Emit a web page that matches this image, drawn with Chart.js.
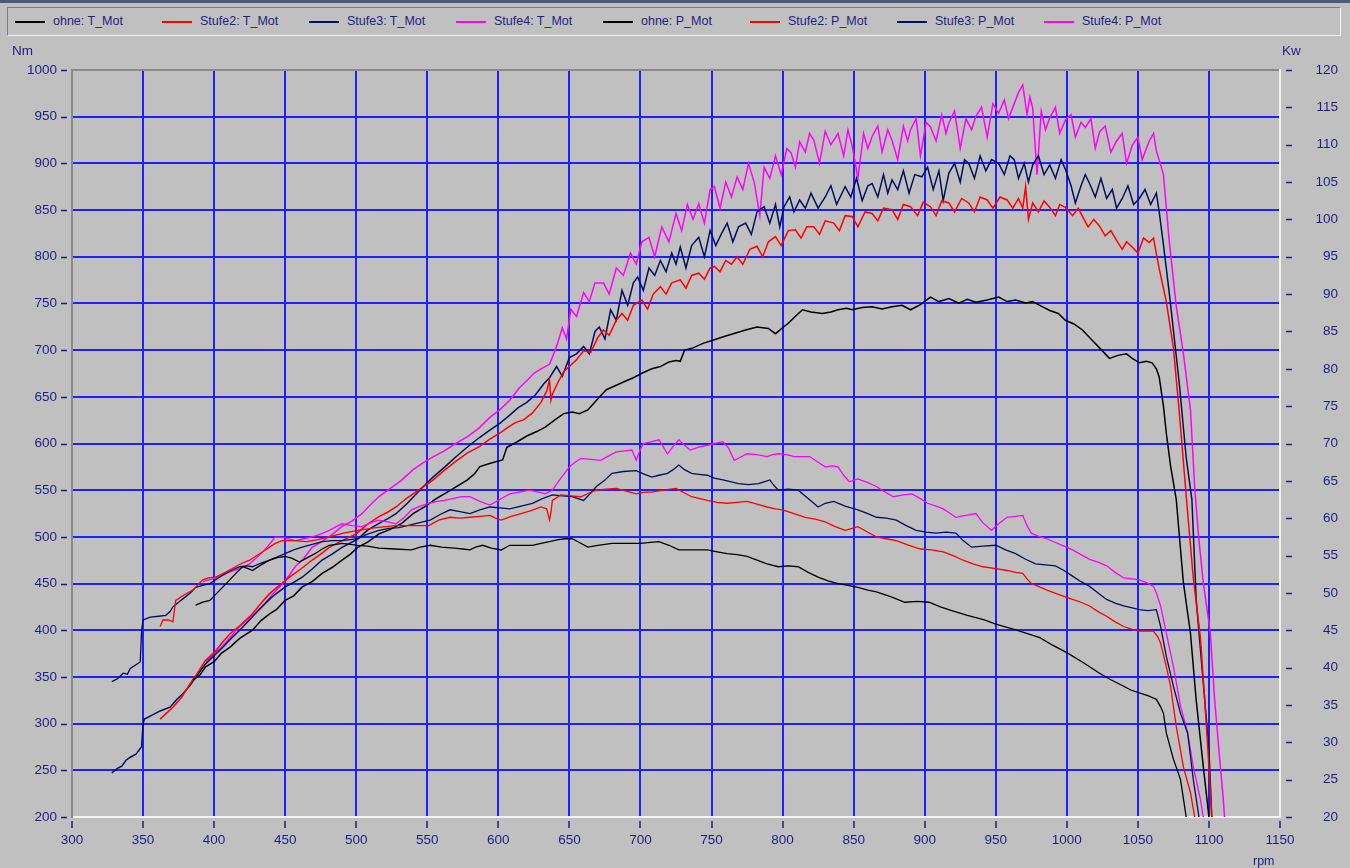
<!DOCTYPE html>
<html>
<head>
<meta charset="utf-8">
<script src="https://cdn.jsdelivr.net/npm/chart.js@4.4.1/dist/chart.umd.min.js"></script>
<style>
html,body{margin:0;padding:0;background:#c0c0c0;}
#wrap{position:relative;width:1350px;height:868px;overflow:hidden;background:#c0c0c0;font-family:"Liberation Sans",Arial,sans-serif;}
#topline{position:absolute;left:0;top:0;width:1350px;height:3px;background:#4a5a7c;}
#legend{position:absolute;left:7px;top:7px;width:1332px;height:27px;border-top:1px solid #7c7c7c;border-left:1px solid #7c7c7c;border-bottom:1px solid #f2f2f2;border-right:1px solid #f2f2f2;}
.li{position:absolute;top:0;height:27px;font-size:12.5px;color:#1e1e82;white-space:nowrap;}
.li i{position:absolute;left:0;top:13px;width:30px;height:2px;}
.li span{position:absolute;left:38px;top:6px;}
canvas{position:absolute;left:0;top:0;}
</style>
</head>
<body>
<div id="wrap">
  <div id="topline"></div>
  <div id="legend"></div>
  <canvas id="c" width="1350" height="868"></canvas>
</div>
<script>
// ---------- axis definitions ----------
const rpmMin = 300, rpmMax = 1150, rpmStep = 50;
const nmMin = 200, nmMax = 1000, nmStep = 50;
const kwMin = 20, kwMax = 120, kwStep = 5;
const unitLeft = "Nm", unitRight = "Kw", unitX = "rpm";

// ---------- series labels ----------
const seriesLabels = ["ohne: T_Mot","Stufe2: T_Mot","Stufe3: T_Mot","Stufe4: T_Mot",
                      "ohne: P_Mot","Stufe2: P_Mot","Stufe3: P_Mot","Stufe4: P_Mot"];
const seriesColors = ["#000000","#ff0000","#000f5e","#ff00ff","#000000","#ff0000","#000f5e","#ff00ff"];

// ---------- torque T_Mot [rpm, Nm] (left axis) ----------
const ohneT = [[387,427],[392,430],[397,432],[404,443],[411,454],[416,462],[420,468],[424,466],[427,464],[433,470],[439,475],[445,478],[450,479],[455,477],[460,473],[466,478],[471,482],[476,487],[481,491],[486,492],[490,493],[496,492],[501,491],[508,490],[516,488],[527,487],[539,486],[545,489],[552,491],[560,489],[569,488],[575,487],[580,486],[584,489],[589,491],[595,488],[602,486],[608,491],[616,491],[624,491],[630,493],[636,495],[642,497],[647,498],[652,498],[657,494],[663,489],[670,491],[680,493],[690,493],[700,493],[707,494],[713,495],[720,491],[727,486],[737,486],[747,486],[754,484],[761,482],[768,481],[775,479],[782,475],[789,471],[797,468],[804,469],[811,468],[818,462],[825,457],[832,453],[839,450],[846,448],[853,446],[860,443],[866,441],[876,436],[886,430],[895,431],[903,430],[911,425],[919,421],[930,416],[942,411],[949,407],[956,404],[963,401],[969,398],[975,395],[981,392],[990,384],[1000,376],[1012,365],[1023,354],[1031,347],[1040,340],[1045,336],[1051,333],[1057,330],[1063,326],[1066,318],[1068,311],[1070,290],[1075,262],[1080,240],[1084,200]];

const stufe2T = [[362,404],[364,411],[368,411],[371,409],[373,432],[379,438],[385,443],[392,454],[396,456],[401,457],[408,462],[415,468],[420,472],[425,475],[432,482],[439,489],[443,493],[448,496],[456,496],[465,495],[473,497],[481,500],[491,504],[501,507],[514,510],[528,512],[540,512],[551,512],[558,518],[566,521],[573,520],[580,521],[587,522],[594,523],[598,520],[602,518],[609,522],[616,525],[623,528],[630,532],[634,530],[636,518],[637,526],[638,539],[644,545],[651,544],[658,543],[664,547],[669,550],[676,551],[683,552],[690,549],[697,546],[703,548],[708,548],[716,550],[725,552],[731,547],[736,543],[742,541],[747,539],[754,537],[761,536],[768,537],[775,538],[782,535],[789,532],[795,530],[800,529],[808,525],[816,521],[823,519],[830,516],[837,511],[844,507],[849,509],[853,511],[860,505],[866,500],[873,498],[880,496],[889,491],[897,487],[905,486],[913,484],[920,480],[927,475],[934,471],[941,468],[950,466],[958,464],[964,462],[969,461],[972,455],[975,450],[980,447],[986,443],[995,438],[1004,433],[1010,430],[1016,426],[1022,420],[1028,415],[1034,409],[1040,404],[1046,401],[1051,399],[1056,399],[1061,399],[1064,393],[1066,386],[1070,361],[1073,340],[1077,297],[1082,254],[1087,226],[1090,200]];

const stufe3T = [[328,345],[332,348],[336,354],[339,353],[341,359],[345,363],[348,366],[349,400],[350,411],[355,414],[361,415],[366,416],[369,420],[371,425],[375,430],[380,436],[384,441],[387,446],[392,448],[397,450],[402,455],[406,459],[412,464],[418,468],[423,469],[427,468],[433,472],[439,475],[445,479],[450,482],[456,486],[462,489],[469,492],[476,495],[483,496],[490,496],[496,497],[501,498],[508,503],[516,507],[523,509],[530,510],[541,514],[552,518],[559,524],[566,529],[573,527],[580,525],[587,529],[594,532],[601,531],[608,530],[616,533],[624,536],[631,541],[638,545],[645,544],[652,543],[656,541],[660,539],[665,547],[669,554],[675,561],[680,568],[688,570],[697,571],[703,567],[708,564],[713,566],[719,568],[723,572],[727,577],[731,572],[736,568],[741,567],[747,566],[752,563],[758,561],[764,559],[769,557],[776,556],[783,557],[787,559],[791,561],[794,555],[797,550],[804,551],[811,550],[818,541],[825,532],[830,536],[836,538],[844,533],[853,529],[860,525],[866,521],[873,520],[880,518],[887,512],[894,507],[901,505],[908,504],[915,505],[922,504],[927,496],[933,489],[941,490],[950,491],[957,486],[964,482],[971,476],[978,471],[985,470],[992,469],[998,464],[1004,458],[1010,452],[1016,447],[1022,440],[1028,433],[1034,429],[1040,426],[1046,424],[1051,422],[1057,421],[1063,422],[1066,404],[1070,372],[1075,340],[1080,311],[1085,290],[1089,240],[1093,200]];

const stufe4T = [[392,452],[399,455],[405,458],[410,462],[418,466],[425,471],[430,478],[435,485],[440,494],[443,500],[450,499],[457,496],[463,498],[469,500],[475,503],[481,507],[486,511],[490,514],[497,512],[504,511],[510,515],[516,518],[522,516],[528,514],[534,521],[539,529],[545,533],[551,536],[557,538],[562,539],[568,541],[574,543],[580,543],[587,538],[594,534],[601,540],[608,546],[615,548],[622,550],[628,548],[633,546],[638,550],[644,563],[650,575],[654,580],[658,584],[665,583],[672,582],[678,587],[683,591],[689,592],[694,593],[697,582],[700,594],[702,600],[708,602],[713,604],[719,589],[723,597],[727,604],[731,598],[735,593],[741,596],[747,598],[752,600],[758,602],[762,595],[766,582],[770,585],[775,589],[782,588],[789,586],[793,588],[797,589],[803,588],[808,586],[814,586],[819,586],[825,580],[830,575],[835,576],[839,575],[843,566],[847,559],[853,562],[860,558],[866,554],[872,548],[878,543],[885,545],[891,546],[897,541],[902,536],[908,533],[913,530],[918,525],[922,521],[929,523],[936,525],[941,515],[947,507],[952,514],[958,521],[964,522],[969,523],[972,512],[975,504],[981,500],[986,498],[992,494],[998,490],[1004,486],[1010,481],[1016,476],[1022,473],[1028,469],[1034,462],[1040,456],[1046,455],[1051,454],[1056,451],[1061,447],[1063,440],[1066,426],[1070,397],[1075,361],[1080,319],[1085,290],[1089,254],[1094,219],[1096,200]];

// ---------- power P_Mot [rpm, kW] (right axis) ----------
const ohneP = [[385,38.3],[390,39.0],[394,40.1],[400,40.8],[405,41.9],[411,42.7],[418,43.9],[427,45.0],[433,46.3],[439,47.2],[444,47.8],[450,49.0],[456,49.6],[462,50.8],[469,51.5],[476,52.6],[483,53.4],[490,54.4],[496,55.2],[501,56.1],[508,56.8],[516,57.9],[524,58.5],[532,59.3],[540,60.6],[548,61.5],[556,62.6],[565,63.6],[578,65.1],[583,65.9],[587,66.9],[595,67.4],[603,67.8],[606,69.5],[613,70.2],[620,71.0],[627,71.6],[633,72.2],[640,73.2],[646,74.0],[652,74.2],[657,74.0],[663,74.5],[670,76.0],[676,77.2],[683,77.8],[690,78.4],[695,78.8],[701,79.4],[708,80.0],[714,80.3],[720,80.9],[725,81.1],[728,81.0],[731,82.5],[737,82.8],[744,83.4],[752,83.9],[760,84.4],[767,84.8],[774,85.2],[782,85.6],[790,85.4],[795,84.7],[800,85.5],[804,86.1],[810,87.2],[814,87.9],[820,87.6],[828,87.4],[834,87.6],[839,87.9],[845,88.1],[849,87.9],[856,88.2],[863,88.3],[870,88.0],[877,88.3],[884,88.5],[890,87.9],[897,88.6],[904,89.6],[910,89.0],[917,89.4],[924,88.8],[930,89.3],[936,88.9],[944,89.2],[952,89.6],[958,89.0],[964,89.2],[971,88.8],[976,89.0],[982,88.4],[988,87.8],[994,87.4],[999,86.5],[1005,86.0],[1011,85.2],[1017,84.0],[1023,82.8],[1027,82.0],[1030,81.4],[1036,81.8],[1042,82.0],[1046,81.4],[1051,80.8],[1056,81.0],[1060,80.8],[1063,80.0],[1065,78.9],[1068,75.0],[1070,71.4],[1073,67.0],[1077,62.5],[1082,51.4],[1087,44.6],[1091,35.7],[1096,26.8],[1100,20.0]];

const stufe2P = [[362,33.1],[366,33.8],[371,34.7],[377,36.0],[383,37.8],[388,39.2],[394,41.0],[400,42.0],[405,43.2],[411,44.5],[418,45.6],[427,47.2],[433,48.6],[439,49.9],[446,51.0],[453,52.1],[461,53.2],[469,54.4],[475,55.2],[481,56.1],[490,57.0],[500,57.9],[508,59.2],[516,60.2],[522,60.8],[528,61.5],[535,62.6],[544,63.8],[554,65.1],[562,66.4],[570,67.6],[578,68.7],[586,69.5],[594,70.6],[601,71.4],[607,72.2],[612,72.8],[618,73.2],[624,74.1],[630,75.5],[634,77.0],[636,78.5],[637,75.8],[638,76.6],[642,78.2],[646,79.6],[650,80.3],[655,81.2],[660,82.4],[665,82.2],[670,84.2],[674,85.2],[678,84.5],[683,86.5],[687,87.4],[691,86.5],[695,88.5],[701,89.2],[705,88.0],[709,90.0],[714,91.0],[718,90.0],[722,91.5],[728,91.9],[732,90.8],[736,92.5],[741,92.8],[745,92.0],[749,93.5],[752,93.7],[756,93.0],[760,94.5],[764,94.0],[768,95.0],[772,94.0],[777,96.0],[782,96.4],[786,95.0],[790,97.0],[795,97.7],[799,96.5],[804,98.5],[809,98.6],[813,97.5],[817,99.0],[822,99.0],[826,98.0],[830,99.8],[836,99.5],[840,98.5],[844,100.5],[849,100.4],[853,99.0],[858,101.0],[863,100.8],[867,99.8],[871,101.5],[877,101.3],[881,100.0],[885,102.0],[890,101.7],[895,100.5],[899,102.3],[904,101.7],[908,100.5],[912,102.5],[917,102.2],[921,101.0],[926,102.8],[931,102.2],[935,101.0],[939,103.0],[944,102.6],[948,101.5],[953,103.0],[958,102.6],[962,101.5],[966,102.8],[969,101.5],[971,104.4],[973,100.0],[976,102.2],[980,101.0],[984,102.5],[988,101.6],[992,100.5],[995,102.0],[999,101.6],[1004,100.5],[1008,101.5],[1011,100.4],[1015,99.0],[1019,100.0],[1023,99.1],[1027,97.8],[1031,98.5],[1035,97.2],[1039,96.0],[1042,97.0],[1046,96.3],[1050,95.5],[1054,97.5],[1058,96.9],[1061,97.5],[1063,95.4],[1065,93.4],[1070,89.0],[1075,82.8],[1079,74.5],[1084,63.0],[1089,52.0],[1094,44.0],[1097,35.7],[1100,26.8],[1102,20.0]];

const stufe3P = [[328,25.9],[332,26.5],[335,26.8],[338,27.6],[341,28.0],[345,28.4],[349,29.4],[350,32.5],[351,33.1],[356,33.6],[362,34.2],[369,34.7],[374,35.8],[378,36.5],[383,37.6],[387,38.7],[394,40.5],[400,41.6],[406,42.7],[412,43.9],[418,45.0],[424,46.2],[429,47.2],[435,48.4],[441,49.5],[450,50.8],[456,51.4],[462,52.1],[469,53.2],[476,54.4],[483,55.2],[490,56.1],[501,57.2],[508,58.4],[516,59.3],[522,59.9],[528,60.6],[536,62.0],[545,63.8],[554,65.5],[562,66.8],[570,68.2],[578,69.5],[586,70.7],[594,71.8],[601,72.7],[608,73.8],[614,74.8],[620,75.5],[626,76.5],[632,78.0],[636,78.8],[641,80.3],[645,79.0],[650,81.5],[655,82.0],[660,83.0],[664,82.0],[668,85.0],[671,85.6],[675,84.0],[679,87.9],[683,86.5],[687,90.5],[691,88.5],[695,91.5],[698,92.3],[702,90.5],[706,93.5],[710,92.5],[714,94.5],[718,93.0],[722,95.5],[725,94.0],[728,96.3],[732,93.5],[736,96.5],[741,97.6],[745,95.0],[749,98.5],[753,96.5],[757,98.1],[761,99.5],[765,97.0],[769,99.0],[774,99.5],[778,98.0],[782,101.0],[787,101.7],[791,99.5],[795,102.0],[798,99.0],[801,101.7],[805,103.0],[808,101.0],[812,102.6],[816,101.5],[820,103.5],[825,101.5],[830,103.0],[834,104.5],[838,102.0],[844,104.4],[848,103.0],[852,105.5],[856,102.5],[860,104.5],[863,104.8],[867,103.0],[871,106.0],[874,103.5],[877,105.3],[881,104.0],[885,106.5],[889,103.5],[893,106.0],[898,105.7],[902,107.0],[906,104.0],[910,106.5],[913,102.5],[917,106.2],[921,107.5],[925,105.0],[928,108.0],[931,107.5],[935,105.5],[939,108.5],[943,106.5],[947,108.0],[952,107.5],[956,106.0],[960,108.5],[963,108.0],[966,105.5],[970,107.5],[973,105.0],[976,107.3],[980,108.5],[984,106.0],[988,107.3],[992,105.5],[996,108.0],[999,106.7],[1003,104.5],[1006,102.2],[1010,104.5],[1013,106.0],[1016,104.8],[1020,103.0],[1024,105.5],[1028,102.8],[1032,104.0],[1035,101.5],[1039,102.8],[1043,104.5],[1047,102.0],[1051,102.8],[1055,104.0],[1059,102.0],[1063,103.5],[1065,101.0],[1068,96.6],[1072,90.3],[1079,78.3],[1084,68.1],[1088,62.5],[1091,49.2],[1096,38.0],[1100,29.0],[1102,20.0]];

const stufe4P = [[394,40.8],[400,41.8],[406,42.9],[412,44.2],[418,45.5],[426,46.8],[434,48.2],[441,49.8],[448,51.2],[453,52.4],[457,53.5],[463,54.6],[469,56.1],[476,56.9],[483,57.8],[490,58.9],[497,59.6],[504,60.6],[510,61.8],[516,62.9],[524,64.0],[532,65.1],[540,66.5],[547,67.4],[554,68.2],[562,69.0],[570,70.0],[578,70.9],[586,72.0],[594,73.5],[601,74.5],[608,75.8],[615,77.5],[620,78.4],[625,79.4],[630,80.0],[636,80.6],[641,83.0],[645,85.5],[648,84.0],[651,88.0],[655,87.0],[660,90.2],[664,89.0],[668,91.5],[674,91.5],[678,90.0],[683,93.5],[688,92.5],[693,95.5],[697,94.0],[701,97.0],[706,97.6],[710,95.0],[715,99.0],[720,97.0],[725,100.8],[729,98.5],[733,102.0],[737,100.0],[741,102.1],[745,99.5],[749,104.0],[752,104.4],[756,101.5],[760,105.0],[764,103.0],[768,105.7],[772,104.0],[776,107.5],[780,105.0],[784,100.5],[787,107.0],[791,105.5],[795,108.5],[799,106.0],[803,109.5],[806,108.9],[809,107.0],[812,110.4],[816,109.0],[819,111.5],[822,110.6],[826,107.5],[830,111.8],[834,110.0],[839,111.5],[843,108.5],[846,112.0],[849,109.8],[853,105.5],[857,111.5],[860,109.5],[863,111.1],[867,112.5],[870,109.0],[874,112.0],[877,110.6],[881,108.0],[885,112.5],[888,110.5],[890,112.0],[894,113.5],[897,108.5],[901,113.0],[904,112.4],[908,110.5],[912,114.0],[915,111.5],[917,112.9],[921,114.5],[925,109.5],[929,113.5],[933,112.0],[936,113.8],[940,115.0],[944,111.0],[948,115.5],[952,114.2],[956,116.0],[959,113.5],[963,115.5],[966,117.0],[969,118.0],[972,114.0],[974,116.4],[976,114.9],[979,106.0],[982,114.5],[985,112.0],[988,113.6],[992,115.0],[995,111.5],[999,113.3],[1003,114.0],[1006,111.0],[1010,113.0],[1013,112.3],[1017,113.5],[1020,109.5],[1023,111.7],[1027,112.5],[1031,109.0],[1035,110.5],[1039,111.5],[1042,107.5],[1046,109.9],[1050,111.0],[1053,108.0],[1058,110.5],[1061,111.5],[1063,109.2],[1068,106.0],[1070,101.6],[1072,97.2],[1077,88.4],[1082,82.1],[1087,74.5],[1090,64.0],[1093,57.0],[1096,51.4],[1101,44.6],[1104,35.7],[1107,29.0],[1110,22.6],[1111,20.0]];

const seriesData = [ohneT, stufe2T, stufe3T, stufe4T, ohneP, stufe2P, stufe3P, stufe4P];
const seriesAxis = ["y","y","y","y","y1","y1","y1","y1"];

// ---------- styling ----------
const TXT = "#1e1e82";
const GRID = "#2020ff";
const FONT = {family: "'Liberation Sans', Arial, sans-serif", size: 13.5};
const plain = v => String(v);

// legend (HTML)
const legendEl = document.getElementById("legend");
seriesLabels.forEach((lab, i) => {
  const d = document.createElement("div");
  d.className = "li";
  d.style.left = (7 + i * 147) + "px";
  const sw = document.createElement("i");
  sw.style.background = seriesColors[i];
  const sp = document.createElement("span");
  sp.textContent = lab;
  d.appendChild(sw); d.appendChild(sp);
  legendEl.appendChild(d);
});

const decor = {
  id: "decor",
  afterDraw(chart) {
    const {ctx, scales} = chart;
    const {x, y, y1} = scales;
    ctx.save();
    ctx.strokeStyle = TXT;
    ctx.lineWidth = 1.5;
    ctx.beginPath();
    y.ticks.forEach(t => {
      const p = Math.round(y.getPixelForValue(t.value)) + 0.5;
      ctx.moveTo(61, p); ctx.lineTo(67, p);
    });
    y1.ticks.forEach(t => {
      const p = Math.round(y1.getPixelForValue(t.value)) + 0.5;
      ctx.moveTo(1286, p); ctx.lineTo(1292, p);
    });
    x.ticks.forEach(t => {
      const p = Math.round(x.getPixelForValue(t.value));
      ctx.moveTo(p, 821); ctx.lineTo(p, 828);
    });
    ctx.stroke();
    ctx.fillStyle = TXT;
    ctx.font = "13.5px 'Liberation Sans', Arial, sans-serif";
    ctx.textBaseline = "middle";
    ctx.textAlign = "left";
    ctx.fillText(unitLeft, 12, 51);
    ctx.fillText(unitRight, 1282, 51);
    ctx.font = "12.5px 'Liberation Sans', Arial, sans-serif";
    ctx.fillText(unitX, 1253, 862);
    ctx.restore();
  }
};

new Chart(document.getElementById("c"), {
  type: "line",
  data: {
    datasets: seriesData.map((arr, i) => ({
      label: seriesLabels[i],
      data: arr.map(([r, v]) => ({x: r, y: v})),
      yAxisID: seriesAxis[i],
      borderColor: seriesColors[i],
      backgroundColor: seriesColors[i],
      borderWidth: i < 4 ? 1.3 : 1.5,
      pointRadius: 0,
      tension: 0,
      fill: false
    }))
  },
  options: {
    responsive: false,
    animation: false,
    events: [],
    layout: {padding: {top: 70, left: 0, right: 12, bottom: 0}},
    plugins: {legend: {display: false}, tooltip: {enabled: false}},
    scales: {
      x: {
        type: "linear", position: "bottom", min: rpmMin, max: rpmMax,
        ticks: {stepSize: rpmStep, color: TXT, font: FONT, padding: 15, autoSkip: false, maxRotation: 0, callback: plain},
        grid: {drawTicks: false, lineWidth: 2,
               color: c => (c.tick && (c.tick.value === rpmMin || c.tick.value === rpmMax)) ? "rgba(0,0,0,0)" : GRID},
        border: {display: true, color: "#f4f4f4", width: 2},
        afterFit: s => { s.height = 51; }
      },
      y: {
        type: "linear", position: "left", min: nmMin, max: nmMax,
        ticks: {stepSize: nmStep, color: TXT, font: FONT, padding: 15, autoSkip: false, callback: plain},
        grid: {drawTicks: false, lineWidth: 2,
               color: c => !c.tick ? GRID : (c.tick.value === nmMax ? "#8a8a8a" : (c.tick.value === nmMin ? "rgba(0,0,0,0)" : GRID))},
        border: {display: true, color: "#8a8a8a", width: 2},
        afterFit: s => { s.width = 72; }
      },
      y1: {
        type: "linear", position: "right", min: kwMin, max: kwMax,
        ticks: {stepSize: kwStep, color: TXT, font: FONT, padding: 24, crossAlign: "far", autoSkip: false, callback: plain},
        grid: {display: false, drawTicks: false},
        border: {display: true, color: "#f4f4f4", width: 2},
        afterFit: s => { s.width = 58; }
      }
    }
  },
  plugins: [decor]
});
</script>
</body>
</html>
